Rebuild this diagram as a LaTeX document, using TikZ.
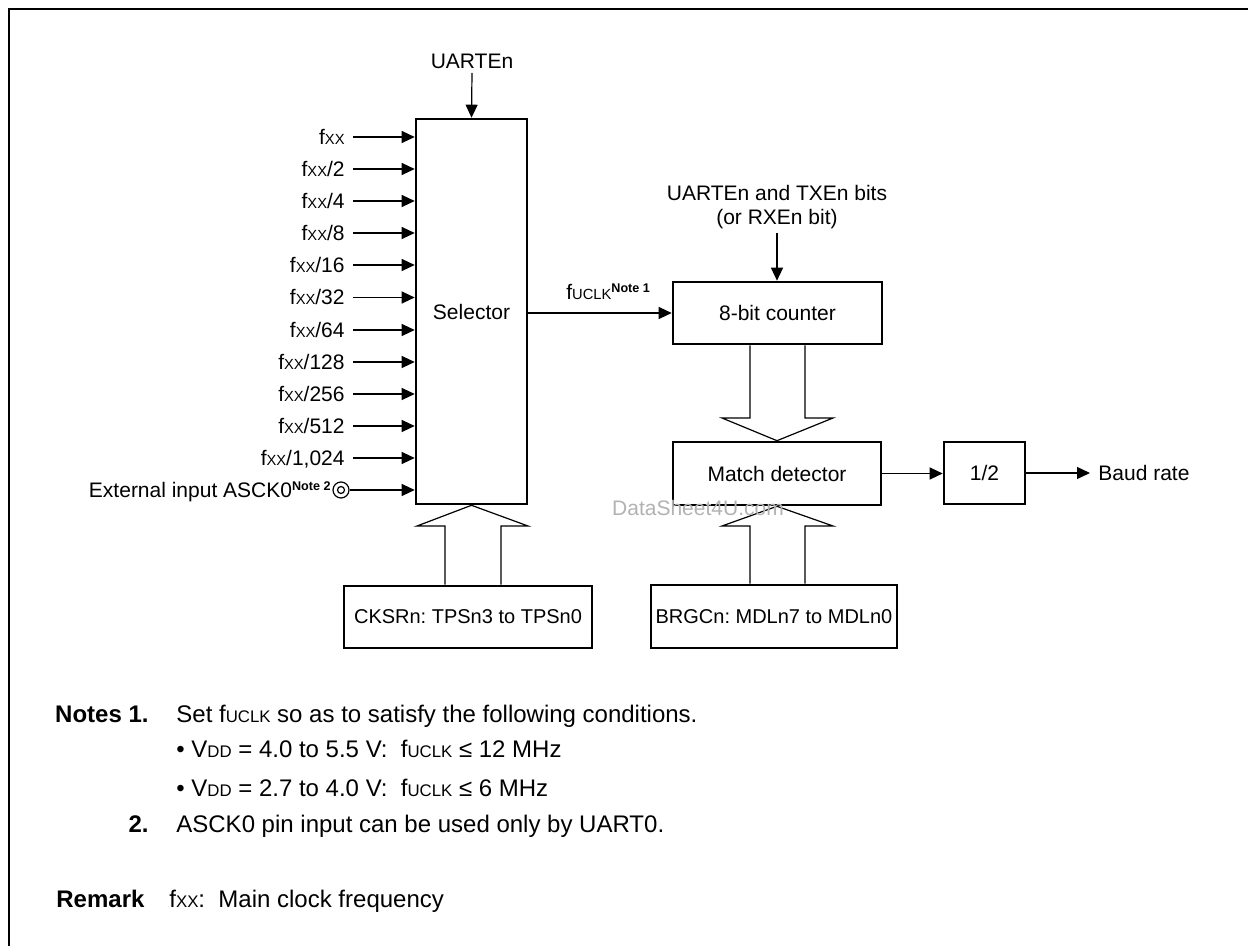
\documentclass[tikz,border=0pt]{standalone}
\usepackage{fontspec}
\usepackage{graphicx}
\setmainfont{Liberation Sans}
\usetikzlibrary{arrows.meta}
\frenchspacing
\newcommand\xx{\scalebox{0.7}{XX}}
\newcommand\uclk{\scalebox{0.7}{UCLK}}
\newcommand\vdd{\scalebox{0.7}{DD}}
\newcommand\nt[1]{\raisebox{3.5pt}{\fontsize{6.3}{7}\selectfont\bfseries Note #1}}
\begin{document}
\begin{tikzpicture}[x=0.5pt,y=-0.5pt,font=\fontsize{10.5}{12}\selectfont,
	blk/.style={draw,line width=1.3pt,inner sep=0pt},
	reg/.style={blk,font=\fontsize{10}{12}\selectfont},
	lbl/.style={inner sep=0pt,text height=7.5pt,text depth=0pt},
	sig/.style={line width=0.6pt,-{Triangle[length=6.5pt,width=6pt]}},
	bus/.style={draw,line width=0.6pt},
	txt/.style={inner sep=0pt,font=\fontsize{12}{14}\selectfont}]
	\useasboundingbox (0,0) rectangle (1248,946);
	\draw[line width=1.2pt] (9,950) -- (9,9) -- (1252,9);
	% selector and its inputs
	\node[blk,minimum width=55.5pt,minimum height=192.5pt] (sel) at (471.5,311.5) {Selector};
	\node[lbl,inner sep=2pt] (uen) at (472,61) {UARTEn};
	\draw[sig] (uen.south) -- (sel.north);
	\node[lbl,anchor=east] (f1) at (345,137) {f\xx};
	\node[lbl,anchor=east] (f2) at (345,169) {f\xx/2};
	\node[lbl,anchor=east] (f4) at (345,201) {f\xx/4};
	\node[lbl,anchor=east] (f8) at (345,233) {f\xx/8};
	\node[lbl,anchor=east] (f16) at (345,265) {f\xx/16};
	\node[lbl,anchor=east] (f32) at (345,297.5) {f\xx/32};
	\node[lbl,anchor=east] (f64) at (345,330) {f\xx/64};
	\node[lbl,anchor=east] (f128) at (345,362) {f\xx/128};
	\node[lbl,anchor=east] (f256) at (345,394) {f\xx/256};
	\node[lbl,anchor=east] (f512) at (345,426) {f\xx/512};
	\node[lbl,anchor=east] (f1024) at (345,458) {f\xx/1,024};
	\draw[sig,shorten <=4pt] (f1.east) -- (sel.west |- f1.east);
	\draw[sig,shorten <=4pt] (f2.east) -- (sel.west |- f2.east);
	\draw[sig,shorten <=4pt] (f4.east) -- (sel.west |- f4.east);
	\draw[sig,shorten <=4pt] (f8.east) -- (sel.west |- f8.east);
	\draw[sig,shorten <=4pt] (f16.east) -- (sel.west |- f16.east);
	\draw[sig,shorten <=4pt] (f32.east) -- (sel.west |- f32.east);
	\draw[sig,shorten <=4pt] (f64.east) -- (sel.west |- f64.east);
	\draw[sig,shorten <=4pt] (f128.east) -- (sel.west |- f128.east);
	\draw[sig,shorten <=4pt] (f256.east) -- (sel.west |- f256.east);
	\draw[sig,shorten <=4pt] (f512.east) -- (sel.west |- f512.east);
	\draw[sig,shorten <=4pt] (f1024.east) -- (sel.west |- f1024.east);
	\node[draw,circle,line width=0.6pt,minimum size=8pt,inner sep=0pt] (ext) at (341,490) {};
	\draw[line width=0.6pt] (ext.center) circle (1.75pt);
	\node[inner sep=0pt,anchor=base east] (extl) at (331,498) {External input ASCK0\nt{2}};
	\draw[sig] (ext) -- (sel.west |- ext);
	% counter, match detector, divider
	\node[blk,minimum width=104.5pt,minimum height=31pt] (cnt) at (777.5,313) {8-bit counter};
	\node[align=center,anchor=south,inner sep=2pt] (ten) at (777,233) {UARTEn and TXEn bits\\(or RXEn bit)};
	\draw[sig] (ten.south) -- (ten.south |- cnt.north);
	\draw[sig] (sel.east |- cnt.west) -- (cnt.west);
	\node[inner sep=0pt,anchor=base west] (fu) at (566,300) {f\uclk\nt{1}};
	\node[blk,minimum width=104pt,minimum height=31.5pt] (mat) at (777,473.5) {Match detector};
	\node[blk,minimum width=40.5pt,minimum height=31pt] (half) at (984.5,473) {1/2};
	\node[inner sep=4pt,anchor=west] (baud) at (1090,473) {Baud rate};
	\draw[sig] (mat.east) -- (half.west |- mat.east);
	\draw[sig] (half.east) -- (baud.west);
	% registers
	\node[reg,minimum width=124pt,minimum height=31pt] (cks) at (468,617) {CKSRn: TPSn3 to TPSn0};
	\node[reg,minimum width=123pt,minimum height=31.5pt] (brg) at (774,616.5) {BRGCn: MDLn7 to MDLn0};
	\draw[bus] (cks.north -| 445,0) -- (445,526) -- (417,526) -- (sel.south) -- (528,526) -- (501,526) -- (cks.north -| 501,0);
	\draw[bus] (cnt.south -| 750,0) -- (750,418) -- (722,418) -- (mat.north) -- (833,418) -- (805,418) -- (cnt.south -| 805,0);
	\draw[bus] (brg.north -| 750,0) -- (750,526) -- (722,526) -- (mat.south) -- (833,526) -- (805,526) -- (brg.north -| 805,0);
	\node[text=black!30] (wm) at (698,508) {DataSheet4U.com};
	% notes
	\node[txt,anchor=base east] (n1) at (149,722) {\bfseries Notes 1.};
	\node[txt,anchor=base west] (n1t) at (176,722) {Set f\uclk{} so as to satisfy the following conditions.};
	\node[txt,anchor=base west] (c1) at (176,757) {\textbullet\hspace{3.3pt}V\vdd{} = 4.0 to 5.5 V:\ \ f\uclk{} ≤ 12 MHz};
	\node[txt,anchor=base west] (c2) at (176,796) {\textbullet\hspace{3.3pt}V\vdd{} = 2.7 to 4.0 V:\ \ f\uclk{} ≤ 6 MHz};
	\node[txt,anchor=base east] (n2) at (149,832) {\bfseries 2.};
	\node[txt,anchor=base west] (n2t) at (176,832) {ASCK0 pin input can be used only by UART0.};
	\node[txt,anchor=base west] (rm) at (56,907) {\bfseries Remark};
	\node[txt,anchor=base west] (rmt) at (169,907) {f\xx:\ \ Main clock frequency};
\end{tikzpicture}
\end{document}
